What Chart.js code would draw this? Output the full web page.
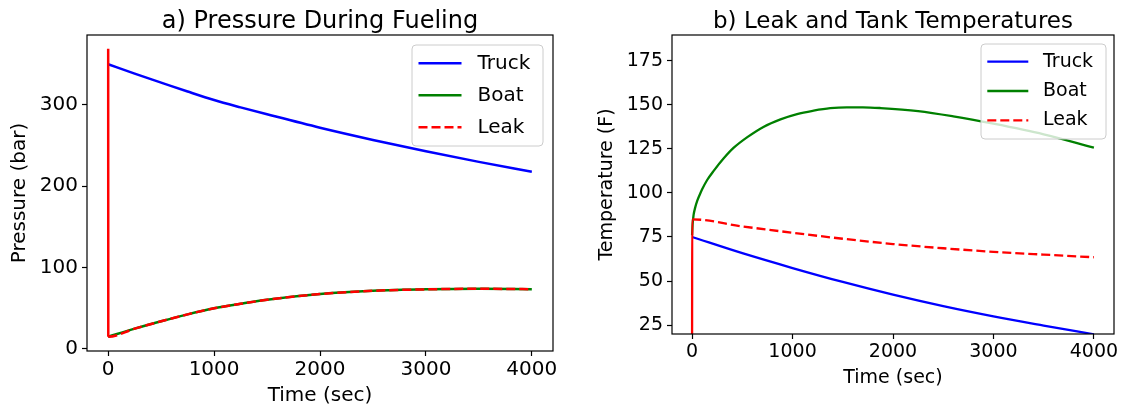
<!DOCTYPE html>
<html>
<head>
<meta charset="utf-8">
<script src="https://cdn.jsdelivr.net/npm/chart.js@4"></script>
<style>
  html, body { margin: 0; padding: 0; background: #fff; }
  #wrap { position: relative; width: 1121px; height: 409px; }
  canvas { position: absolute; top: 0; }
  #pressureChart { left: 0; }
  #tempChart { left: 560px; }
</style>
</head>
<body>
<div id="wrap">
  <canvas id="pressureChart" width="560" height="409"></canvas>
  <canvas id="tempChart" width="561" height="409"></canvas>
</div>
<script>
// a) pressure during fueling (bar)
const timeA = [0, 250, 500, 750, 1000, 1250, 1500, 2000, 2500, 3000, 3500, 4000];
const truckP = [350, 338.5, 327.5, 316.5, 306, 297, 288.5, 272, 257, 243, 230, 218];
const boatP = [15, 25, 34, 42.5, 50, 55.5, 60.5, 67.5, 71.5, 73.3, 74, 73.5];
const leakTimeA = [0, 1, 250, 500, 750, 1000, 1250, 1500, 2000, 2500, 3000, 3500, 4000];
const leakP = [369, 15, 25, 34, 42.5, 50, 55.5, 60.5, 67.5, 71.5, 73.3, 74, 73.5];

// b) leak and tank temperatures (F)
const timeB = [0, 500, 1000, 1500, 2000, 2500, 3000, 3500, 4000];
const truckT = [75, 65.8, 57.4, 49.5, 42.3, 35.8, 30, 24.8, 19.8];
const boatTimeB = [0, 5, 15, 30, 50, 75, 100, 150, 215, 315, 415, 550, 710, 880, 1045, 1210, 1375, 1540, 1700, 1875, 2250, 2600, 3000, 3500, 4000];
const boatT = [76, 82, 87.5, 91.5, 95.3, 98.8, 102, 107.3, 112.5, 119.6, 125.6, 131.6, 137.4, 141.7, 144.7, 146.6, 148, 148.5, 148.5, 148.1, 146.4, 143.4, 139.2, 133.2, 125.7];
const leakTimeB = [0, 1, 500, 1000, 1500, 2000, 2500, 3000, 3500, 4000];
const leakT = [20, 85, 81, 77.4, 74, 71, 68.6, 66.6, 65, 63.5];

// tick labels
const timeTicks = [0, 1000, 2000, 3000, 4000];
const pressureTicks = [0, 100, 200, 300];
const tempTicks = [25, 50, 75, 100, 125, 150, 175];

const FONT = "'DejaVu Sans', sans-serif";

function pts(xs, ys) {
    return xs.map((x, i) => ({ x: x, y: ys[i] }));
}

// frame, title and legend drawn the matplotlib way
const panelPlugin = {
    id: "panel",
    afterDatasetsDraw(chart, args, o) {
        const ctx = chart.ctx;
        const ca = chart.chartArea;
        ctx.save();

        ctx.strokeStyle = "#000";
        ctx.lineWidth = 1.2;
        ctx.setLineDash([]);
        ctx.strokeRect(ca.left, ca.top, ca.right - ca.left, ca.bottom - ca.top);

        ctx.fillStyle = "#000";
        ctx.font = o.titleSize + "px " + FONT;
        ctx.textAlign = "center";
        ctx.textBaseline = "alphabetic";
        ctx.fillText(o.title, (ca.left + ca.right) / 2, o.titleY);

        const lg = o.legend;
        const bx = ca.right - lg.gap - lg.w;
        const by = ca.top + lg.gapTop;
        ctx.beginPath();
        ctx.roundRect(bx, by, lg.w, lg.h, 4);
        ctx.fillStyle = "rgba(255,255,255,0.8)";
        ctx.fill();
        ctx.strokeStyle = "#cccccc";
        ctx.lineWidth = 1;
        ctx.stroke();

        ctx.font = lg.size + "px " + FONT;
        ctx.textAlign = "left";
        ctx.textBaseline = "middle";
        chart.data.datasets.forEach((ds, i) => {
            const y = by + lg.first + i * lg.row;
            ctx.strokeStyle = ds.borderColor;
            ctx.lineWidth = ds.borderWidth;
            ctx.setLineDash(ds.borderDash || []);
            ctx.beginPath();
            ctx.moveTo(bx + lg.lx, y);
            ctx.lineTo(bx + lg.lx + lg.len, y);
            ctx.stroke();
            ctx.fillStyle = "#000";
            ctx.fillText(ds.label, bx + lg.tx, y);
        });
        ctx.restore();
    }
};

function makePanel(id, p) {
    const ctx = document.getElementById(id).getContext("2d");
    const lw = p.lineWidth;
    return new Chart(ctx, {
        type: "line",
        data: {
            datasets: [
                { label: "Truck", data: p.truck, borderColor: "#0000ff", borderWidth: lw, order: 3 },
                { label: "Boat", data: p.boat, borderColor: "#008000", borderWidth: lw, order: 2 },
                {
                    label: "Leak", data: p.leak, borderColor: "#ff0000", borderWidth: lw, order: 1,
                    borderDash: [9, 4],
                    segment: { borderDash: c => (c.p0DataIndex === 0 ? [] : undefined) }
                }
            ]
        },
        options: {
            responsive: false,
            animation: false,
            devicePixelRatio: 1,
            events: [],
            layout: { padding: { left: 0, top: 35, right: p.padRight, bottom: 0 } },
            elements: {
                point: { radius: 0 },
                line: { cubicInterpolationMode: "monotone", fill: false }
            },
            scales: {
                x: {
                    type: "linear",
                    min: -200,
                    max: 4200,
                    afterBuildTicks: s => { s.ticks = timeTicks.map(v => ({ value: v })); },
                    afterFit: s => { s.height = p.xAxisH; },
                    border: { display: false },
                    grid: { drawOnChartArea: false, drawTicks: true, tickLength: 5, tickWidth: 1.2, tickColor: "#000" },
                    ticks: {
                        color: "#000", autoSkip: false, maxRotation: 0, padding: 2,
                        font: { family: FONT, size: p.fontSize },
                        callback: v => String(v)
                    },
                    title: {
                        display: true, text: "Time (sec)", color: "#000",
                        font: { family: FONT, size: p.fontSize, lineHeight: 1 },
                        padding: { top: 0, bottom: p.xTitlePad }
                    }
                },
                y: {
                    type: "linear",
                    min: p.yMin,
                    max: p.yMax,
                    afterBuildTicks: s => { s.ticks = p.yTicks.map(v => ({ value: v })); },
                    afterFit: s => { s.width = p.yAxisW; },
                    border: { display: false },
                    grid: { drawOnChartArea: false, drawTicks: true, tickLength: 5, tickWidth: 1.2, tickColor: "#000" },
                    ticks: {
                        color: "#000", autoSkip: false, padding: 4,
                        font: { family: FONT, size: p.fontSize },
                        callback: v => String(v)
                    },
                    title: {
                        display: true, text: p.yTitle, color: "#000",
                        font: { family: FONT, size: p.fontSize, lineHeight: 1 },
                        padding: { top: p.yTitlePad, bottom: 0 }
                    }
                }
            },
            plugins: {
                legend: { display: false },
                tooltip: { enabled: false },
                panel: {
                    title: p.title, titleSize: p.titleSize, titleY: 27.5,
                    legend: p.legend
                }
            }
        },
        plugins: [panelPlugin]
    });
}

makePanel("pressureChart", {
    truck: pts(timeA, truckP),
    boat: pts(timeA, boatP),
    leak: pts(leakTimeA, leakP),
    yMin: -2.5, yMax: 386, yTicks: pressureTicks,
    yTitle: "Pressure (bar)",
    title: "a) Pressure During Fueling",
    titleSize: 24, fontSize: 20, lineWidth: 2.5,
    padRight: 7, yAxisW: 87, xAxisH: 58, xTitlePad: 3, yTitlePad: 10,
    legend: { w: 131, h: 101, gap: 10, gapTop: 10, lx: 6.5, len: 43, tx: 65.5, first: 18.3, row: 32, size: 20 }
});

makePanel("tempChart", {
    truck: pts(timeB, truckT),
    boat: pts(boatTimeB, boatT),
    leak: pts(leakTimeB, leakT),
    yMin: 20, yMax: 189.5, yTicks: tempTicks,
    yTitle: "Temperature (F)",
    title: "b) Leak and Tank Temperatures",
    titleSize: 23, fontSize: 19, lineWidth: 2.3,
    padRight: 7, yAxisW: 112, xAxisH: 75, xTitlePad: 21, yTitlePad: 38,
    legend: { w: 125, h: 95, gap: 8, gapTop: 9, lx: 6.3, len: 41, tx: 62, first: 17.7, row: 29.3, size: 19 }
});
</script>
</body>
</html>
